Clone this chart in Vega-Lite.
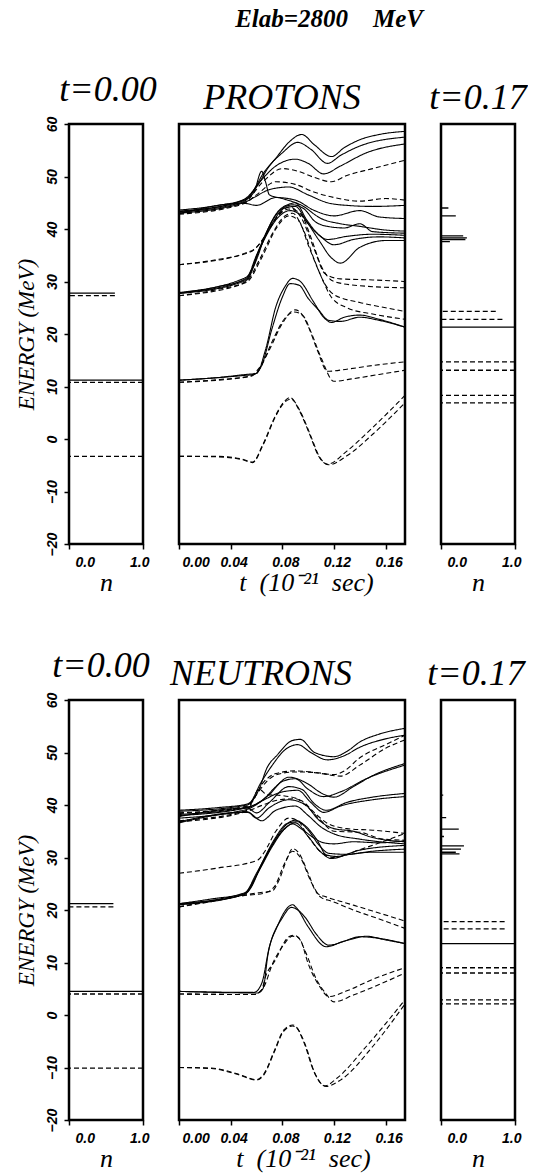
{
"$schema": "https://vega.github.io/schema/vega-lite/v6.json",
"padding": {"left": 14, "top": 6, "right": 0, "bottom": 0},
"background": "white",
"title": {"text": "Elab=2800\u00a0\u00a0\u00a0\u00a0MeV", "color": "black", "font": "Liberation Serif", "fontSize": 25, "fontWeight": "bold", "fontStyle": "italic", "anchor": "middle", "dx": 58, "offset": 39, "style": "etitle"},
"config": {
  "view": {"stroke": "black", "strokeWidth": 2.5},
  "line": {"color": "black", "strokeWidth": 1.1},
  "rule": {"color": "black", "strokeWidth": 1.3},
  "style": {"etitle": {"fill": "black", "font": "Liberation Serif", "fontSize": 25, "fontWeight": "bold", "fontStyle": "italic"}},
  "axis": {"grid": false, "domain": false, "tickColor": "black", "tickSize": 5, "tickWidth": 1.5, "labelColor": "black", "labelFont": "Liberation Sans", "labelFontWeight": "bold", "labelFontStyle": "italic", "labelFontSize": 14, "titleFont": "Liberation Serif", "titleFontStyle": "italic", "titleFontWeight": "normal", "titleColor": "black"},
  "title": {"font": "Liberation Serif", "fontStyle": "italic", "fontWeight": "normal", "fontSize": 36, "color": "black", "offset": 7}
},
"datasets": {
"p0": [
 {"s": "s", "E": 27.8, "n": 0.62}, {"s": "d", "E": 27.3, "n": 0.62},
 {"s": "s", "E": 11.2, "n": 1}, {"s": "d", "E": 10.8, "n": 1},
 {"s": "d", "E": -3.3, "n": 1}
],
"p1": [
 {"s": "s", "E": 44.0, "n": 0.1}, {"s": "s", "E": 42.5, "n": 0.2},
 {"s": "s", "E": 38.7, "n": 0.3}, {"s": "s", "E": 38.3, "n": 0.35}, {"s": "s", "E": 38.0, "n": 0.33}, {"s": "s", "E": 37.6, "n": 0.12},
 {"s": "d", "E": 24.3, "n": 0.74}, {"s": "d", "E": 22.8, "n": 0.83},
 {"s": "s", "E": 21.3, "n": 1},
 {"s": "d", "E": 14.7, "n": 1}, {"s": "d", "E": 13.1, "n": 1},
 {"s": "d", "E": 8.3, "n": 1}, {"s": "d", "E": 6.9, "n": 1}
],
"n0": [
 {"s": "s", "E": 21.2, "n": 0.6}, {"s": "d", "E": 20.6, "n": 0.6},
 {"s": "s", "E": 4.5, "n": 1}, {"s": "d", "E": 4.0, "n": 1},
 {"s": "d", "E": -10.1, "n": 1}
],
"n1": [
 {"s": "s", "E": 41.9, "n": 0.03}, {"s": "s", "E": 37.6, "n": 0.07}, {"s": "s", "E": 35.4, "n": 0.24}, {"s": "s", "E": 34.0, "n": 0.04},
 {"s": "s", "E": 32.2, "n": 0.31}, {"s": "s", "E": 31.6, "n": 0.27}, {"s": "s", "E": 31.0, "n": 0.2}, {"s": "s", "E": 30.7, "n": 0.25},
 {"s": "d", "E": 17.8, "n": 0.86}, {"s": "d", "E": 16.4, "n": 0.86},
 {"s": "s", "E": 13.6, "n": 1},
 {"s": "d", "E": 9.0, "n": 1}, {"s": "d", "E": 8.0, "n": 1},
 {"s": "d", "E": 2.9, "n": 1}, {"s": "d", "E": 2.1, "n": 1}
],
"pm": [
 {"id": "pa1", "s": "d", "t": 0, "E": -3.3}, {"id": "pa1", "s": "d", "t": 0.03, "E": -3.3}, {"id": "pa1", "s": "d", "t": 0.05, "E": -3.9}, {"id": "pa1", "s": "d", "t": 0.057, "E": -4.4}, {"id": "pa1", "s": "d", "t": 0.065, "E": -1.0}, {"id": "pa1", "s": "d", "t": 0.075, "E": 4.6}, {"id": "pa1", "s": "d", "t": 0.081, "E": 7.0}, {"id": "pa1", "s": "d", "t": 0.086, "E": 7.9}, {"id": "pa1", "s": "d", "t": 0.093, "E": 5.5}, {"id": "pa1", "s": "d", "t": 0.101, "E": 1.0}, {"id": "pa1", "s": "d", "t": 0.108, "E": -3.2}, {"id": "pa1", "s": "d", "t": 0.115, "E": -4.8}, {"id": "pa1", "s": "d", "t": 0.13, "E": -2.3}, {"id": "pa1", "s": "d", "t": 0.15, "E": 2.2}, {"id": "pa1", "s": "d", "t": 0.175, "E": 8.3},
 {"id": "pa2", "s": "d", "t": 0, "E": -3.3}, {"id": "pa2", "s": "d", "t": 0.03, "E": -3.4}, {"id": "pa2", "s": "d", "t": 0.05, "E": -4.0}, {"id": "pa2", "s": "d", "t": 0.057, "E": -4.5}, {"id": "pa2", "s": "d", "t": 0.065, "E": -1.2}, {"id": "pa2", "s": "d", "t": 0.075, "E": 4.4}, {"id": "pa2", "s": "d", "t": 0.081, "E": 6.8}, {"id": "pa2", "s": "d", "t": 0.087, "E": 7.6}, {"id": "pa2", "s": "d", "t": 0.094, "E": 5.2}, {"id": "pa2", "s": "d", "t": 0.102, "E": 0.6}, {"id": "pa2", "s": "d", "t": 0.109, "E": -3.5}, {"id": "pa2", "s": "d", "t": 0.116, "E": -4.9}, {"id": "pa2", "s": "d", "t": 0.13, "E": -3.2}, {"id": "pa2", "s": "d", "t": 0.15, "E": 0.9}, {"id": "pa2", "s": "d", "t": 0.175, "E": 6.9},
 {"id": "pbs1", "s": "s", "t": 0, "E": 11.2}, {"id": "pbs1", "s": "s", "t": 0.03, "E": 11.7}, {"id": "pbs1", "s": "s", "t": 0.052, "E": 12.3}, {"id": "pbs1", "s": "s", "t": 0.06, "E": 12.5}, {"id": "pbs1", "s": "s", "t": 0.067, "E": 17}, {"id": "pbs1", "s": "s", "t": 0.075, "E": 25.2}, {"id": "pbs1", "s": "s", "t": 0.082, "E": 29}, {"id": "pbs1", "s": "s", "t": 0.088, "E": 30.6}, {"id": "pbs1", "s": "s", "t": 0.094, "E": 30.0}, {"id": "pbs1", "s": "s", "t": 0.104, "E": 26.2}, {"id": "pbs1", "s": "s", "t": 0.112, "E": 23.2}, {"id": "pbs1", "s": "s", "t": 0.118, "E": 22.2}, {"id": "pbs1", "s": "s", "t": 0.128, "E": 23.2}, {"id": "pbs1", "s": "s", "t": 0.14, "E": 23.6}, {"id": "pbs1", "s": "s", "t": 0.155, "E": 22.8}, {"id": "pbs1", "s": "s", "t": 0.175, "E": 21.3},
 {"id": "pbs2", "s": "s", "t": 0, "E": 11.2}, {"id": "pbs2", "s": "s", "t": 0.05, "E": 12.1}, {"id": "pbs2", "s": "s", "t": 0.058, "E": 12.3}, {"id": "pbs2", "s": "s", "t": 0.064, "E": 14}, {"id": "pbs2", "s": "s", "t": 0.072, "E": 21}, {"id": "pbs2", "s": "s", "t": 0.08, "E": 27}, {"id": "pbs2", "s": "s", "t": 0.086, "E": 29.6}, {"id": "pbs2", "s": "s", "t": 0.093, "E": 29.3}, {"id": "pbs2", "s": "s", "t": 0.1, "E": 26.8}, {"id": "pbs2", "s": "s", "t": 0.108, "E": 24.6}, {"id": "pbs2", "s": "s", "t": 0.116, "E": 22.6}, {"id": "pbs2", "s": "s", "t": 0.125, "E": 22.4}, {"id": "pbs2", "s": "s", "t": 0.14, "E": 23.2}, {"id": "pbs2", "s": "s", "t": 0.155, "E": 22.6}, {"id": "pbs2", "s": "s", "t": 0.175, "E": 21.3},
 {"id": "pbd1", "s": "d", "t": 0, "E": 10.8}, {"id": "pbd1", "s": "d", "t": 0.03, "E": 11.3}, {"id": "pbd1", "s": "d", "t": 0.055, "E": 12.0}, {"id": "pbd1", "s": "d", "t": 0.062, "E": 13.5}, {"id": "pbd1", "s": "d", "t": 0.07, "E": 17}, {"id": "pbd1", "s": "d", "t": 0.08, "E": 22}, {"id": "pbd1", "s": "d", "t": 0.09, "E": 24.6}, {"id": "pbd1", "s": "d", "t": 0.095, "E": 23.8}, {"id": "pbd1", "s": "d", "t": 0.1, "E": 21.5}, {"id": "pbd1", "s": "d", "t": 0.107, "E": 17}, {"id": "pbd1", "s": "d", "t": 0.115, "E": 12.9}, {"id": "pbd1", "s": "d", "t": 0.13, "E": 13.3}, {"id": "pbd1", "s": "d", "t": 0.15, "E": 14}, {"id": "pbd1", "s": "d", "t": 0.175, "E": 14.7},
 {"id": "pbd2", "s": "d", "t": 0, "E": 10.8}, {"id": "pbd2", "s": "d", "t": 0.055, "E": 11.9}, {"id": "pbd2", "s": "d", "t": 0.063, "E": 13.6}, {"id": "pbd2", "s": "d", "t": 0.072, "E": 18.5}, {"id": "pbd2", "s": "d", "t": 0.082, "E": 23}, {"id": "pbd2", "s": "d", "t": 0.089, "E": 24.2}, {"id": "pbd2", "s": "d", "t": 0.096, "E": 23.5}, {"id": "pbd2", "s": "d", "t": 0.102, "E": 20.5}, {"id": "pbd2", "s": "d", "t": 0.11, "E": 15.5}, {"id": "pbd2", "s": "d", "t": 0.12, "E": 11.0}, {"id": "pbd2", "s": "d", "t": 0.135, "E": 11.5}, {"id": "pbd2", "s": "d", "t": 0.155, "E": 12.3}, {"id": "pbd2", "s": "d", "t": 0.175, "E": 13.1},
 {"id": "pcs1", "s": "s", "t": 0, "E": 27.8}, {"id": "pcs1", "s": "s", "t": 0.03, "E": 29.0}, {"id": "pcs1", "s": "s", "t": 0.052, "E": 30.6}, {"id": "pcs1", "s": "s", "t": 0.06, "E": 35}, {"id": "pcs1", "s": "s", "t": 0.067, "E": 39}, {"id": "pcs1", "s": "s", "t": 0.075, "E": 42.8}, {"id": "pcs1", "s": "s", "t": 0.086, "E": 44.8}, {"id": "pcs1", "s": "s", "t": 0.09, "E": 45.0}, {"id": "pcs1", "s": "s", "t": 0.099, "E": 41.7}, {"id": "pcs1", "s": "s", "t": 0.107, "E": 39.2}, {"id": "pcs1", "s": "s", "t": 0.115, "E": 38.0}, {"id": "pcs1", "s": "s", "t": 0.13, "E": 38.6}, {"id": "pcs1", "s": "s", "t": 0.15, "E": 39.0}, {"id": "pcs1", "s": "s", "t": 0.175, "E": 38.8},
 {"id": "pcs2", "s": "s", "t": 0, "E": 27.8}, {"id": "pcs2", "s": "s", "t": 0.052, "E": 30.4}, {"id": "pcs2", "s": "s", "t": 0.062, "E": 36}, {"id": "pcs2", "s": "s", "t": 0.072, "E": 41}, {"id": "pcs2", "s": "s", "t": 0.082, "E": 44}, {"id": "pcs2", "s": "s", "t": 0.09, "E": 44.3}, {"id": "pcs2", "s": "s", "t": 0.1, "E": 41}, {"id": "pcs2", "s": "s", "t": 0.11, "E": 38.5}, {"id": "pcs2", "s": "s", "t": 0.12, "E": 37.0}, {"id": "pcs2", "s": "s", "t": 0.135, "E": 38}, {"id": "pcs2", "s": "s", "t": 0.155, "E": 38.5}, {"id": "pcs2", "s": "s", "t": 0.175, "E": 38.3},
 {"id": "pcs3", "s": "s", "t": 0, "E": 27.9}, {"id": "pcs3", "s": "s", "t": 0.052, "E": 30.8}, {"id": "pcs3", "s": "s", "t": 0.058, "E": 33}, {"id": "pcs3", "s": "s", "t": 0.068, "E": 39.5}, {"id": "pcs3", "s": "s", "t": 0.078, "E": 43.5}, {"id": "pcs3", "s": "s", "t": 0.088, "E": 44.6}, {"id": "pcs3", "s": "s", "t": 0.097, "E": 43.8}, {"id": "pcs3", "s": "s", "t": 0.105, "E": 41.5}, {"id": "pcs3", "s": "s", "t": 0.115, "E": 40.5}, {"id": "pcs3", "s": "s", "t": 0.128, "E": 40.2}, {"id": "pcs3", "s": "s", "t": 0.14, "E": 41}, {"id": "pcs3", "s": "s", "t": 0.15, "E": 39.5}, {"id": "pcs3", "s": "s", "t": 0.175, "E": 39.2},
 {"id": "pcs4", "s": "s", "t": 0, "E": 27.7}, {"id": "pcs4", "s": "s", "t": 0.052, "E": 30.2}, {"id": "pcs4", "s": "s", "t": 0.064, "E": 37}, {"id": "pcs4", "s": "s", "t": 0.076, "E": 42}, {"id": "pcs4", "s": "s", "t": 0.086, "E": 43.5}, {"id": "pcs4", "s": "s", "t": 0.095, "E": 42.5}, {"id": "pcs4", "s": "s", "t": 0.108, "E": 38}, {"id": "pcs4", "s": "s", "t": 0.118, "E": 34.5}, {"id": "pcs4", "s": "s", "t": 0.125, "E": 33.5}, {"id": "pcs4", "s": "s", "t": 0.14, "E": 36.5}, {"id": "pcs4", "s": "s", "t": 0.16, "E": 37.8}, {"id": "pcs4", "s": "s", "t": 0.175, "E": 37.8},
 {"id": "pcd1", "s": "d", "t": 0, "E": 27.3}, {"id": "pcd1", "s": "d", "t": 0.03, "E": 28.5}, {"id": "pcd1", "s": "d", "t": 0.052, "E": 30.0}, {"id": "pcd1", "s": "d", "t": 0.062, "E": 34}, {"id": "pcd1", "s": "d", "t": 0.072, "E": 39}, {"id": "pcd1", "s": "d", "t": 0.082, "E": 42.5}, {"id": "pcd1", "s": "d", "t": 0.088, "E": 43}, {"id": "pcd1", "s": "d", "t": 0.096, "E": 40}, {"id": "pcd1", "s": "d", "t": 0.105, "E": 34}, {"id": "pcd1", "s": "d", "t": 0.113, "E": 29.5}, {"id": "pcd1", "s": "d", "t": 0.12, "E": 27.5}, {"id": "pcd1", "s": "d", "t": 0.14, "E": 26}, {"id": "pcd1", "s": "d", "t": 0.16, "E": 25}, {"id": "pcd1", "s": "d", "t": 0.175, "E": 24.3},
 {"id": "pcd2", "s": "d", "t": 0, "E": 27.3}, {"id": "pcd2", "s": "d", "t": 0.052, "E": 29.8}, {"id": "pcd2", "s": "d", "t": 0.064, "E": 34.5}, {"id": "pcd2", "s": "d", "t": 0.075, "E": 40}, {"id": "pcd2", "s": "d", "t": 0.085, "E": 42.5}, {"id": "pcd2", "s": "d", "t": 0.093, "E": 41.5}, {"id": "pcd2", "s": "d", "t": 0.1, "E": 37}, {"id": "pcd2", "s": "d", "t": 0.11, "E": 31}, {"id": "pcd2", "s": "d", "t": 0.118, "E": 27}, {"id": "pcd2", "s": "d", "t": 0.13, "E": 25}, {"id": "pcd2", "s": "d", "t": 0.15, "E": 23.8}, {"id": "pcd2", "s": "d", "t": 0.175, "E": 22.8},
 {"id": "pdd1", "s": "d", "t": 0, "E": 33.2}, {"id": "pdd1", "s": "d", "t": 0.03, "E": 34.2}, {"id": "pdd1", "s": "d", "t": 0.05, "E": 35.3}, {"id": "pdd1", "s": "d", "t": 0.06, "E": 36.5}, {"id": "pdd1", "s": "d", "t": 0.07, "E": 40}, {"id": "pdd1", "s": "d", "t": 0.08, "E": 43.5}, {"id": "pdd1", "s": "d", "t": 0.086, "E": 44.2}, {"id": "pdd1", "s": "d", "t": 0.095, "E": 42}, {"id": "pdd1", "s": "d", "t": 0.105, "E": 36}, {"id": "pdd1", "s": "d", "t": 0.113, "E": 31.5}, {"id": "pdd1", "s": "d", "t": 0.125, "E": 30.5}, {"id": "pdd1", "s": "d", "t": 0.15, "E": 30.3}, {"id": "pdd1", "s": "d", "t": 0.175, "E": 30},
 {"id": "pdd2", "s": "d", "t": 0, "E": 33.2}, {"id": "pdd2", "s": "d", "t": 0.055, "E": 35.6}, {"id": "pdd2", "s": "d", "t": 0.065, "E": 38}, {"id": "pdd2", "s": "d", "t": 0.075, "E": 42}, {"id": "pdd2", "s": "d", "t": 0.085, "E": 43.8}, {"id": "pdd2", "s": "d", "t": 0.094, "E": 43}, {"id": "pdd2", "s": "d", "t": 0.102, "E": 38.5}, {"id": "pdd2", "s": "d", "t": 0.11, "E": 33}, {"id": "pdd2", "s": "d", "t": 0.12, "E": 30}, {"id": "pdd2", "s": "d", "t": 0.14, "E": 29.2}, {"id": "pdd2", "s": "d", "t": 0.175, "E": 28.8},
 {"id": "pus1", "s": "s", "t": 0, "E": 43.6}, {"id": "pus1", "s": "s", "t": 0.03, "E": 44.5}, {"id": "pus1", "s": "s", "t": 0.05, "E": 45.6}, {"id": "pus1", "s": "s", "t": 0.058, "E": 47.5}, {"id": "pus1", "s": "s", "t": 0.065, "E": 50.5}, {"id": "pus1", "s": "s", "t": 0.075, "E": 53.5}, {"id": "pus1", "s": "s", "t": 0.085, "E": 56.5}, {"id": "pus1", "s": "s", "t": 0.095, "E": 58.0}, {"id": "pus1", "s": "s", "t": 0.105, "E": 56.0}, {"id": "pus1", "s": "s", "t": 0.118, "E": 53.8}, {"id": "pus1", "s": "s", "t": 0.128, "E": 55.5}, {"id": "pus1", "s": "s", "t": 0.14, "E": 57.0}, {"id": "pus1", "s": "s", "t": 0.155, "E": 58.0}, {"id": "pus1", "s": "s", "t": 0.175, "E": 58.6},
 {"id": "pus2", "s": "s", "t": 0, "E": 43.4}, {"id": "pus2", "s": "s", "t": 0.05, "E": 45.4}, {"id": "pus2", "s": "s", "t": 0.06, "E": 48}, {"id": "pus2", "s": "s", "t": 0.07, "E": 52}, {"id": "pus2", "s": "s", "t": 0.08, "E": 54.5}, {"id": "pus2", "s": "s", "t": 0.092, "E": 56.5}, {"id": "pus2", "s": "s", "t": 0.102, "E": 55.2}, {"id": "pus2", "s": "s", "t": 0.115, "E": 52.5}, {"id": "pus2", "s": "s", "t": 0.125, "E": 54.0}, {"id": "pus2", "s": "s", "t": 0.14, "E": 55.8}, {"id": "pus2", "s": "s", "t": 0.175, "E": 57.5},
 {"id": "pus3", "s": "s", "t": 0, "E": 43.2}, {"id": "pus3", "s": "s", "t": 0.05, "E": 45.2}, {"id": "pus3", "s": "s", "t": 0.062, "E": 48.8}, {"id": "pus3", "s": "s", "t": 0.075, "E": 52}, {"id": "pus3", "s": "s", "t": 0.09, "E": 53.3}, {"id": "pus3", "s": "s", "t": 0.1, "E": 52.5}, {"id": "pus3", "s": "s", "t": 0.112, "E": 50.5}, {"id": "pus3", "s": "s", "t": 0.125, "E": 52}, {"id": "pus3", "s": "s", "t": 0.145, "E": 54.5}, {"id": "pus3", "s": "s", "t": 0.175, "E": 56.2},
 {"id": "pud1", "s": "d", "t": 0, "E": 43.0}, {"id": "pud1", "s": "d", "t": 0.05, "E": 45.0}, {"id": "pud1", "s": "d", "t": 0.065, "E": 49}, {"id": "pud1", "s": "d", "t": 0.08, "E": 51.5}, {"id": "pud1", "s": "d", "t": 0.092, "E": 51}, {"id": "pud1", "s": "d", "t": 0.105, "E": 49.8}, {"id": "pud1", "s": "d", "t": 0.118, "E": 49.0}, {"id": "pud1", "s": "d", "t": 0.13, "E": 50.2}, {"id": "pud1", "s": "d", "t": 0.15, "E": 51.5}, {"id": "pud1", "s": "d", "t": 0.175, "E": 53.1},
 {"id": "pud2", "s": "d", "t": 0, "E": 42.8}, {"id": "pud2", "s": "d", "t": 0.05, "E": 44.8}, {"id": "pud2", "s": "d", "t": 0.06, "E": 46.5}, {"id": "pud2", "s": "d", "t": 0.075, "E": 49}, {"id": "pud2", "s": "d", "t": 0.09, "E": 48.5}, {"id": "pud2", "s": "d", "t": 0.105, "E": 47}, {"id": "pud2", "s": "d", "t": 0.12, "E": 46}, {"id": "pud2", "s": "d", "t": 0.14, "E": 45.3}, {"id": "pud2", "s": "d", "t": 0.16, "E": 45.8}, {"id": "pud2", "s": "d", "t": 0.175, "E": 45.5},
 {"id": "pus4", "s": "s", "t": 0, "E": 43.0}, {"id": "pus4", "s": "s", "t": 0.05, "E": 45.0}, {"id": "pus4", "s": "s", "t": 0.058, "E": 46}, {"id": "pus4", "s": "s", "t": 0.07, "E": 47.5}, {"id": "pus4", "s": "s", "t": 0.085, "E": 48}, {"id": "pus4", "s": "s", "t": 0.1, "E": 46.5}, {"id": "pus4", "s": "s", "t": 0.115, "E": 45}, {"id": "pus4", "s": "s", "t": 0.13, "E": 44.5}, {"id": "pus4", "s": "s", "t": 0.15, "E": 44.3}, {"id": "pus4", "s": "s", "t": 0.175, "E": 44.5},
 {"id": "pus5", "s": "s", "t": 0, "E": 42.9}, {"id": "pus5", "s": "s", "t": 0.05, "E": 44.9}, {"id": "pus5", "s": "s", "t": 0.06, "E": 44.5}, {"id": "pus5", "s": "s", "t": 0.075, "E": 46}, {"id": "pus5", "s": "s", "t": 0.09, "E": 45.5}, {"id": "pus5", "s": "s", "t": 0.105, "E": 43.5}, {"id": "pus5", "s": "s", "t": 0.12, "E": 42.5}, {"id": "pus5", "s": "s", "t": 0.14, "E": 43.5}, {"id": "pus5", "s": "s", "t": 0.155, "E": 42.3}, {"id": "pus5", "s": "s", "t": 0.175, "E": 42.0},
 {"id": "pus6", "s": "s", "t": 0, "E": 43.3}, {"id": "pus6", "s": "s", "t": 0.05, "E": 45.5}, {"id": "pus6", "s": "s", "t": 0.058, "E": 47}, {"id": "pus6", "s": "s", "t": 0.064, "E": 51}, {"id": "pus6", "s": "s", "t": 0.067, "E": 49}, {"id": "pus6", "s": "s", "t": 0.07, "E": 46.5}, {"id": "pus6", "s": "s", "t": 0.08, "E": 45.8}, {"id": "pus6", "s": "s", "t": 0.095, "E": 44.5}, {"id": "pus6", "s": "s", "t": 0.11, "E": 42}, {"id": "pus6", "s": "s", "t": 0.125, "E": 41}, {"id": "pus6", "s": "s", "t": 0.14, "E": 40.5}, {"id": "pus6", "s": "s", "t": 0.16, "E": 39.8}, {"id": "pus6", "s": "s", "t": 0.175, "E": 39.6}
],
"nm": [
 {"id": "na1", "s": "d", "t": 0, "E": -10}, {"id": "na1", "s": "d", "t": 0.025, "E": -10.1}, {"id": "na1", "s": "d", "t": 0.045, "E": -11.2}, {"id": "na1", "s": "d", "t": 0.06, "E": -12.3}, {"id": "na1", "s": "d", "t": 0.066, "E": -11.1}, {"id": "na1", "s": "d", "t": 0.074, "E": -6.7}, {"id": "na1", "s": "d", "t": 0.081, "E": -2.9}, {"id": "na1", "s": "d", "t": 0.088, "E": -1.9}, {"id": "na1", "s": "d", "t": 0.09, "E": -2.1}, {"id": "na1", "s": "d", "t": 0.097, "E": -5.4}, {"id": "na1", "s": "d", "t": 0.104, "E": -10.5}, {"id": "na1", "s": "d", "t": 0.113, "E": -13.5}, {"id": "na1", "s": "d", "t": 0.122, "E": -12.1}, {"id": "na1", "s": "d", "t": 0.145, "E": -6}, {"id": "na1", "s": "d", "t": 0.175, "E": 2.9},
 {"id": "na2", "s": "d", "t": 0, "E": -10}, {"id": "na2", "s": "d", "t": 0.025, "E": -10.2}, {"id": "na2", "s": "d", "t": 0.045, "E": -11.3}, {"id": "na2", "s": "d", "t": 0.06, "E": -12.4}, {"id": "na2", "s": "d", "t": 0.066, "E": -11.3}, {"id": "na2", "s": "d", "t": 0.074, "E": -6.9}, {"id": "na2", "s": "d", "t": 0.081, "E": -3.1}, {"id": "na2", "s": "d", "t": 0.088, "E": -2.1}, {"id": "na2", "s": "d", "t": 0.091, "E": -2.4}, {"id": "na2", "s": "d", "t": 0.098, "E": -5.8}, {"id": "na2", "s": "d", "t": 0.105, "E": -11}, {"id": "na2", "s": "d", "t": 0.114, "E": -13.6}, {"id": "na2", "s": "d", "t": 0.125, "E": -12.4}, {"id": "na2", "s": "d", "t": 0.15, "E": -6}, {"id": "na2", "s": "d", "t": 0.175, "E": 2.1},
 {"id": "nbs1", "s": "s", "t": 0, "E": 4.5}, {"id": "nbs1", "s": "s", "t": 0.061, "E": 4.2}, {"id": "nbs1", "s": "s", "t": 0.065, "E": 5}, {"id": "nbs1", "s": "s", "t": 0.069, "E": 11.7}, {"id": "nbs1", "s": "s", "t": 0.076, "E": 16.8}, {"id": "nbs1", "s": "s", "t": 0.088, "E": 21}, {"id": "nbs1", "s": "s", "t": 0.091, "E": 20.4}, {"id": "nbs1", "s": "s", "t": 0.1, "E": 16.8}, {"id": "nbs1", "s": "s", "t": 0.114, "E": 13.0}, {"id": "nbs1", "s": "s", "t": 0.127, "E": 14.0}, {"id": "nbs1", "s": "s", "t": 0.14, "E": 14.9}, {"id": "nbs1", "s": "s", "t": 0.152, "E": 14.7}, {"id": "nbs1", "s": "s", "t": 0.175, "E": 13.6},
 {"id": "nbs2", "s": "s", "t": 0, "E": 4.5}, {"id": "nbs2", "s": "s", "t": 0.058, "E": 4.3}, {"id": "nbs2", "s": "s", "t": 0.064, "E": 6}, {"id": "nbs2", "s": "s", "t": 0.07, "E": 13}, {"id": "nbs2", "s": "s", "t": 0.08, "E": 18.5}, {"id": "nbs2", "s": "s", "t": 0.087, "E": 20.5}, {"id": "nbs2", "s": "s", "t": 0.092, "E": 20}, {"id": "nbs2", "s": "s", "t": 0.098, "E": 18.5}, {"id": "nbs2", "s": "s", "t": 0.106, "E": 15.5}, {"id": "nbs2", "s": "s", "t": 0.116, "E": 13.3}, {"id": "nbs2", "s": "s", "t": 0.13, "E": 14.2}, {"id": "nbs2", "s": "s", "t": 0.145, "E": 15}, {"id": "nbs2", "s": "s", "t": 0.16, "E": 14.3}, {"id": "nbs2", "s": "s", "t": 0.175, "E": 13.6},
 {"id": "nbd1", "s": "d", "t": 0, "E": 4.0}, {"id": "nbd1", "s": "d", "t": 0.058, "E": 3.9}, {"id": "nbd1", "s": "d", "t": 0.064, "E": 4.8}, {"id": "nbd1", "s": "d", "t": 0.067, "E": 7.3}, {"id": "nbd1", "s": "d", "t": 0.074, "E": 10.2}, {"id": "nbd1", "s": "d", "t": 0.085, "E": 14.9}, {"id": "nbd1", "s": "d", "t": 0.089, "E": 15.2}, {"id": "nbd1", "s": "d", "t": 0.094, "E": 14.3}, {"id": "nbd1", "s": "d", "t": 0.1, "E": 9.8}, {"id": "nbd1", "s": "d", "t": 0.109, "E": 5.4}, {"id": "nbd1", "s": "d", "t": 0.116, "E": 3.5}, {"id": "nbd1", "s": "d", "t": 0.13, "E": 4.6}, {"id": "nbd1", "s": "d", "t": 0.15, "E": 6.8}, {"id": "nbd1", "s": "d", "t": 0.175, "E": 9.0},
 {"id": "nbd2", "s": "d", "t": 0, "E": 4.0}, {"id": "nbd2", "s": "d", "t": 0.058, "E": 3.9}, {"id": "nbd2", "s": "d", "t": 0.066, "E": 5.5}, {"id": "nbd2", "s": "d", "t": 0.072, "E": 9.5}, {"id": "nbd2", "s": "d", "t": 0.08, "E": 13}, {"id": "nbd2", "s": "d", "t": 0.088, "E": 15.0}, {"id": "nbd2", "s": "d", "t": 0.092, "E": 14.8}, {"id": "nbd2", "s": "d", "t": 0.098, "E": 12}, {"id": "nbd2", "s": "d", "t": 0.106, "E": 7}, {"id": "nbd2", "s": "d", "t": 0.114, "E": 4.0}, {"id": "nbd2", "s": "d", "t": 0.12, "E": 2.5}, {"id": "nbd2", "s": "d", "t": 0.135, "E": 3.8}, {"id": "nbd2", "s": "d", "t": 0.155, "E": 5.8}, {"id": "nbd2", "s": "d", "t": 0.175, "E": 8.0},
 {"id": "ncs1", "s": "s", "t": 0, "E": 21.2}, {"id": "ncs1", "s": "s", "t": 0.025, "E": 22.1}, {"id": "ncs1", "s": "s", "t": 0.051, "E": 23.2}, {"id": "ncs1", "s": "s", "t": 0.058, "E": 25.7}, {"id": "ncs1", "s": "s", "t": 0.066, "E": 29.5}, {"id": "ncs1", "s": "s", "t": 0.076, "E": 34}, {"id": "ncs1", "s": "s", "t": 0.086, "E": 36.8}, {"id": "ncs1", "s": "s", "t": 0.09, "E": 37.1}, {"id": "ncs1", "s": "s", "t": 0.097, "E": 36.2}, {"id": "ncs1", "s": "s", "t": 0.107, "E": 33.3}, {"id": "ncs1", "s": "s", "t": 0.114, "E": 30.5}, {"id": "ncs1", "s": "s", "t": 0.122, "E": 30.2}, {"id": "ncs1", "s": "s", "t": 0.14, "E": 31.4}, {"id": "ncs1", "s": "s", "t": 0.175, "E": 32.3},
 {"id": "ncs2", "s": "s", "t": 0, "E": 21.1}, {"id": "ncs2", "s": "s", "t": 0.051, "E": 23.1}, {"id": "ncs2", "s": "s", "t": 0.055, "E": 24}, {"id": "ncs2", "s": "s", "t": 0.064, "E": 28.8}, {"id": "ncs2", "s": "s", "t": 0.074, "E": 33.5}, {"id": "ncs2", "s": "s", "t": 0.084, "E": 36.5}, {"id": "ncs2", "s": "s", "t": 0.092, "E": 36.8}, {"id": "ncs2", "s": "s", "t": 0.1, "E": 35.2}, {"id": "ncs2", "s": "s", "t": 0.108, "E": 32.5}, {"id": "ncs2", "s": "s", "t": 0.116, "E": 30.8}, {"id": "ncs2", "s": "s", "t": 0.13, "E": 30.6}, {"id": "ncs2", "s": "s", "t": 0.15, "E": 31.2}, {"id": "ncs2", "s": "s", "t": 0.175, "E": 31.6},
 {"id": "ncs3", "s": "s", "t": 0, "E": 21.2}, {"id": "ncs3", "s": "s", "t": 0.051, "E": 23.3}, {"id": "ncs3", "s": "s", "t": 0.06, "E": 27}, {"id": "ncs3", "s": "s", "t": 0.07, "E": 31.5}, {"id": "ncs3", "s": "s", "t": 0.08, "E": 35}, {"id": "ncs3", "s": "s", "t": 0.088, "E": 36.4}, {"id": "ncs3", "s": "s", "t": 0.095, "E": 35.4}, {"id": "ncs3", "s": "s", "t": 0.104, "E": 33.8}, {"id": "ncs3", "s": "s", "t": 0.112, "E": 32.8}, {"id": "ncs3", "s": "s", "t": 0.12, "E": 32.6}, {"id": "ncs3", "s": "s", "t": 0.135, "E": 33}, {"id": "ncs3", "s": "s", "t": 0.155, "E": 32.8}, {"id": "ncs3", "s": "s", "t": 0.175, "E": 33.2},
 {"id": "ncs4", "s": "s", "t": 0, "E": 21.0}, {"id": "ncs4", "s": "s", "t": 0.051, "E": 23.0}, {"id": "ncs4", "s": "s", "t": 0.062, "E": 27.5}, {"id": "ncs4", "s": "s", "t": 0.072, "E": 32}, {"id": "ncs4", "s": "s", "t": 0.082, "E": 35.5}, {"id": "ncs4", "s": "s", "t": 0.09, "E": 36.6}, {"id": "ncs4", "s": "s", "t": 0.1, "E": 34}, {"id": "ncs4", "s": "s", "t": 0.11, "E": 31}, {"id": "ncs4", "s": "s", "t": 0.118, "E": 29.8}, {"id": "ncs4", "s": "s", "t": 0.13, "E": 30.5}, {"id": "ncs4", "s": "s", "t": 0.15, "E": 31}, {"id": "ncs4", "s": "s", "t": 0.175, "E": 31.0},
 {"id": "ncd1", "s": "d", "t": 0, "E": 20.6}, {"id": "ncd1", "s": "d", "t": 0.025, "E": 21.6}, {"id": "ncd1", "s": "d", "t": 0.052, "E": 22.9}, {"id": "ncd1", "s": "d", "t": 0.062, "E": 23.3}, {"id": "ncd1", "s": "d", "t": 0.072, "E": 23.6}, {"id": "ncd1", "s": "d", "t": 0.078, "E": 26}, {"id": "ncd1", "s": "d", "t": 0.084, "E": 30}, {"id": "ncd1", "s": "d", "t": 0.088, "E": 31.7}, {"id": "ncd1", "s": "d", "t": 0.093, "E": 30.8}, {"id": "ncd1", "s": "d", "t": 0.1, "E": 27}, {"id": "ncd1", "s": "d", "t": 0.107, "E": 23.2}, {"id": "ncd1", "s": "d", "t": 0.114, "E": 22.5}, {"id": "ncd1", "s": "d", "t": 0.13, "E": 21.3}, {"id": "ncd1", "s": "d", "t": 0.15, "E": 19.8}, {"id": "ncd1", "s": "d", "t": 0.175, "E": 17.9},
 {"id": "ncd2", "s": "d", "t": 0, "E": 20.6}, {"id": "ncd2", "s": "d", "t": 0.052, "E": 22.8}, {"id": "ncd2", "s": "d", "t": 0.066, "E": 23.2}, {"id": "ncd2", "s": "d", "t": 0.074, "E": 24.5}, {"id": "ncd2", "s": "d", "t": 0.082, "E": 29}, {"id": "ncd2", "s": "d", "t": 0.088, "E": 31.2}, {"id": "ncd2", "s": "d", "t": 0.094, "E": 30}, {"id": "ncd2", "s": "d", "t": 0.102, "E": 25.5}, {"id": "ncd2", "s": "d", "t": 0.11, "E": 22.4}, {"id": "ncd2", "s": "d", "t": 0.118, "E": 21.7}, {"id": "ncd2", "s": "d", "t": 0.135, "E": 20}, {"id": "ncd2", "s": "d", "t": 0.155, "E": 18.3}, {"id": "ncd2", "s": "d", "t": 0.175, "E": 16.5},
 {"id": "ndd1", "s": "d", "t": 0, "E": 27}, {"id": "ndd1", "s": "d", "t": 0.03, "E": 28}, {"id": "ndd1", "s": "d", "t": 0.061, "E": 29.5}, {"id": "ndd1", "s": "d", "t": 0.066, "E": 31}, {"id": "ndd1", "s": "d", "t": 0.075, "E": 35}, {"id": "ndd1", "s": "d", "t": 0.085, "E": 37.5}, {"id": "ndd1", "s": "d", "t": 0.092, "E": 37}, {"id": "ndd1", "s": "d", "t": 0.1, "E": 34}, {"id": "ndd1", "s": "d", "t": 0.11, "E": 31}, {"id": "ndd1", "s": "d", "t": 0.12, "E": 30}, {"id": "ndd1", "s": "d", "t": 0.14, "E": 31.5}, {"id": "ndd1", "s": "d", "t": 0.175, "E": 34.6},
 {"id": "nus1", "s": "s", "t": 0, "E": 39.0}, {"id": "nus1", "s": "s", "t": 0.03, "E": 39.5}, {"id": "nus1", "s": "s", "t": 0.053, "E": 40.2}, {"id": "nus1", "s": "s", "t": 0.062, "E": 43}, {"id": "nus1", "s": "s", "t": 0.068, "E": 47}, {"id": "nus1", "s": "s", "t": 0.076, "E": 49.5}, {"id": "nus1", "s": "s", "t": 0.088, "E": 52.3}, {"id": "nus1", "s": "s", "t": 0.094, "E": 52.5}, {"id": "nus1", "s": "s", "t": 0.105, "E": 50}, {"id": "nus1", "s": "s", "t": 0.12, "E": 49.2}, {"id": "nus1", "s": "s", "t": 0.13, "E": 50.2}, {"id": "nus1", "s": "s", "t": 0.14, "E": 52}, {"id": "nus1", "s": "s", "t": 0.155, "E": 53.5}, {"id": "nus1", "s": "s", "t": 0.175, "E": 54.6},
 {"id": "nus2", "s": "s", "t": 0, "E": 38.8}, {"id": "nus2", "s": "s", "t": 0.053, "E": 40.0}, {"id": "nus2", "s": "s", "t": 0.064, "E": 44.5}, {"id": "nus2", "s": "s", "t": 0.072, "E": 47.5}, {"id": "nus2", "s": "s", "t": 0.082, "E": 50.5}, {"id": "nus2", "s": "s", "t": 0.092, "E": 51.5}, {"id": "nus2", "s": "s", "t": 0.102, "E": 50}, {"id": "nus2", "s": "s", "t": 0.115, "E": 48.6}, {"id": "nus2", "s": "s", "t": 0.128, "E": 49.4}, {"id": "nus2", "s": "s", "t": 0.14, "E": 51}, {"id": "nus2", "s": "s", "t": 0.16, "E": 52.6}, {"id": "nus2", "s": "s", "t": 0.175, "E": 53.3},
 {"id": "nud1", "s": "d", "t": 0, "E": 38.5}, {"id": "nud1", "s": "d", "t": 0.053, "E": 39.8}, {"id": "nud1", "s": "d", "t": 0.06, "E": 42}, {"id": "nud1", "s": "d", "t": 0.068, "E": 44.5}, {"id": "nud1", "s": "d", "t": 0.076, "E": 45.8}, {"id": "nud1", "s": "d", "t": 0.09, "E": 46.3}, {"id": "nud1", "s": "d", "t": 0.105, "E": 46.2}, {"id": "nud1", "s": "d", "t": 0.12, "E": 45.8}, {"id": "nud1", "s": "d", "t": 0.128, "E": 46.5}, {"id": "nud1", "s": "d", "t": 0.14, "E": 49}, {"id": "nud1", "s": "d", "t": 0.16, "E": 51.5}, {"id": "nud1", "s": "d", "t": 0.175, "E": 53.3},
 {"id": "nud2", "s": "d", "t": 0, "E": 38.4}, {"id": "nud2", "s": "d", "t": 0.053, "E": 39.7}, {"id": "nud2", "s": "d", "t": 0.066, "E": 44.5}, {"id": "nud2", "s": "d", "t": 0.075, "E": 46}, {"id": "nud2", "s": "d", "t": 0.09, "E": 46.5}, {"id": "nud2", "s": "d", "t": 0.11, "E": 46}, {"id": "nud2", "s": "d", "t": 0.125, "E": 45.5}, {"id": "nud2", "s": "d", "t": 0.14, "E": 47.6}, {"id": "nud2", "s": "d", "t": 0.16, "E": 50.8}, {"id": "nud2", "s": "d", "t": 0.175, "E": 52.4},
 {"id": "nus3", "s": "s", "t": 0, "E": 38.2}, {"id": "nus3", "s": "s", "t": 0.053, "E": 39.6}, {"id": "nus3", "s": "s", "t": 0.065, "E": 41}, {"id": "nus3", "s": "s", "t": 0.075, "E": 43.5}, {"id": "nus3", "s": "s", "t": 0.085, "E": 45.3}, {"id": "nus3", "s": "s", "t": 0.1, "E": 44}, {"id": "nus3", "s": "s", "t": 0.11, "E": 42.3}, {"id": "nus3", "s": "s", "t": 0.12, "E": 41.5}, {"id": "nus3", "s": "s", "t": 0.135, "E": 43.5}, {"id": "nus3", "s": "s", "t": 0.15, "E": 45.6}, {"id": "nus3", "s": "s", "t": 0.175, "E": 47.9},
 {"id": "nus4", "s": "s", "t": 0, "E": 38.0}, {"id": "nus4", "s": "s", "t": 0.053, "E": 39.5}, {"id": "nus4", "s": "s", "t": 0.07, "E": 42}, {"id": "nus4", "s": "s", "t": 0.08, "E": 44.5}, {"id": "nus4", "s": "s", "t": 0.09, "E": 45}, {"id": "nus4", "s": "s", "t": 0.1, "E": 43}, {"id": "nus4", "s": "s", "t": 0.112, "E": 41.6}, {"id": "nus4", "s": "s", "t": 0.125, "E": 42.5}, {"id": "nus4", "s": "s", "t": 0.145, "E": 45}, {"id": "nus4", "s": "s", "t": 0.175, "E": 47.6},
 {"id": "nus5", "s": "s", "t": 0, "E": 37.8}, {"id": "nus5", "s": "s", "t": 0.053, "E": 39.4}, {"id": "nus5", "s": "s", "t": 0.06, "E": 38.5}, {"id": "nus5", "s": "s", "t": 0.07, "E": 40.5}, {"id": "nus5", "s": "s", "t": 0.085, "E": 43.5}, {"id": "nus5", "s": "s", "t": 0.095, "E": 43}, {"id": "nus5", "s": "s", "t": 0.105, "E": 40.2}, {"id": "nus5", "s": "s", "t": 0.114, "E": 39.0}, {"id": "nus5", "s": "s", "t": 0.13, "E": 40.5}, {"id": "nus5", "s": "s", "t": 0.15, "E": 41.5}, {"id": "nus5", "s": "s", "t": 0.175, "E": 42.2},
 {"id": "nus6", "s": "s", "t": 0, "E": 37.5}, {"id": "nus6", "s": "s", "t": 0.053, "E": 39.2}, {"id": "nus6", "s": "s", "t": 0.066, "E": 41}, {"id": "nus6", "s": "s", "t": 0.08, "E": 42.5}, {"id": "nus6", "s": "s", "t": 0.092, "E": 42.8}, {"id": "nus6", "s": "s", "t": 0.102, "E": 40.5}, {"id": "nus6", "s": "s", "t": 0.112, "E": 38.6}, {"id": "nus6", "s": "s", "t": 0.125, "E": 39.8}, {"id": "nus6", "s": "s", "t": 0.15, "E": 41}, {"id": "nus6", "s": "s", "t": 0.175, "E": 41.6},
 {"id": "nud3", "s": "d", "t": 0, "E": 37.0}, {"id": "nud3", "s": "d", "t": 0.053, "E": 39.0}, {"id": "nud3", "s": "d", "t": 0.062, "E": 43}, {"id": "nud3", "s": "d", "t": 0.068, "E": 42}, {"id": "nud3", "s": "d", "t": 0.08, "E": 41.8}, {"id": "nud3", "s": "d", "t": 0.095, "E": 40.8}, {"id": "nud3", "s": "d", "t": 0.105, "E": 38.5}, {"id": "nud3", "s": "d", "t": 0.115, "E": 36.5}, {"id": "nud3", "s": "d", "t": 0.13, "E": 35.5}, {"id": "nud3", "s": "d", "t": 0.15, "E": 35.2}, {"id": "nud3", "s": "d", "t": 0.175, "E": 34.6},
 {"id": "nud4", "s": "d", "t": 0, "E": 36.8}, {"id": "nud4", "s": "d", "t": 0.053, "E": 38.8}, {"id": "nud4", "s": "d", "t": 0.065, "E": 40}, {"id": "nud4", "s": "d", "t": 0.078, "E": 41}, {"id": "nud4", "s": "d", "t": 0.09, "E": 41.2}, {"id": "nud4", "s": "d", "t": 0.1, "E": 39.5}, {"id": "nud4", "s": "d", "t": 0.11, "E": 37}, {"id": "nud4", "s": "d", "t": 0.12, "E": 35}, {"id": "nud4", "s": "d", "t": 0.14, "E": 34.8}, {"id": "nud4", "s": "d", "t": 0.158, "E": 33.5}, {"id": "nud4", "s": "d", "t": 0.175, "E": 33.3},
 {"id": "nus7", "s": "s", "t": 0, "E": 36.8}, {"id": "nus7", "s": "s", "t": 0.053, "E": 38.7}, {"id": "nus7", "s": "s", "t": 0.06, "E": 37.5}, {"id": "nus7", "s": "s", "t": 0.07, "E": 39.5}, {"id": "nus7", "s": "s", "t": 0.085, "E": 41}, {"id": "nus7", "s": "s", "t": 0.098, "E": 40}, {"id": "nus7", "s": "s", "t": 0.108, "E": 37.2}, {"id": "nus7", "s": "s", "t": 0.12, "E": 35.5}, {"id": "nus7", "s": "s", "t": 0.135, "E": 35}, {"id": "nus7", "s": "s", "t": 0.15, "E": 33.8}, {"id": "nus7", "s": "s", "t": 0.175, "E": 33.0},
 {"id": "nus8", "s": "s", "t": 0, "E": 36.6}, {"id": "nus8", "s": "s", "t": 0.053, "E": 38.6}, {"id": "nus8", "s": "s", "t": 0.064, "E": 37}, {"id": "nus8", "s": "s", "t": 0.075, "E": 39}, {"id": "nus8", "s": "s", "t": 0.09, "E": 39.8}, {"id": "nus8", "s": "s", "t": 0.1, "E": 38}, {"id": "nus8", "s": "s", "t": 0.11, "E": 35.8}, {"id": "nus8", "s": "s", "t": 0.12, "E": 34.5}, {"id": "nus8", "s": "s", "t": 0.14, "E": 33.5}, {"id": "nus8", "s": "s", "t": 0.175, "E": 32.6}
]
},
"spacing": 49,
"vconcat": [
 {
  "bounds": "flush",
  "spacing": 36,
  "hconcat": [
   {
    "width": 74, "height": 420,
    "title": {"text": "t=0.00", "dx": 2},
    "data": {"name": "p0"},
    "mark": {"type": "rule"},
    "encoding": {
     "y": {"field": "E", "type": "quantitative", "scale": {"domain": [-20, 60], "nice": false}, "axis": {"values": [-20, -10, 0, 10, 20, 30, 40, 50, 60], "labelAngle": -90, "labelPadding": 5, "title": "ENERGY (MeV)", "titleFontSize": 23, "titlePadding": 6.5}},
     "x": {"field": "n", "type": "quantitative", "scale": {"domain": [0, 1], "nice": false, "zero": false}, "axis": {"values": [0, 1], "format": ".1f", "labelOffset": 6, "labelPadding": 6, "title": "n", "titleFontSize": 26, "titlePadding": 0}},
     "x2": {"datum": 0},
     "strokeDash": {"field": "s", "type": "nominal", "scale": {"domain": ["s", "d"], "range": [[1, 0], [5, 3]]}, "legend": null}
    }
   },
   {
    "width": 226, "height": 420,
    "title": {"text": "PROTONS", "dx": -10},
    "data": {"name": "pm"},
    "mark": {"type": "line", "interpolate": "monotone"},
    "encoding": {
     "x": {"field": "t", "type": "quantitative", "scale": {"domain": [0, 0.175], "nice": false, "zero": false}, "axis": {"values": [0, 0.04, 0.08, 0.12, 0.16], "format": ".2f", "labelFlush": true, "labelOffset": 3, "labelPadding": 6, "title": "t\u00a0\u00a0(10⁻²¹\u00a0\u00a0sec)", "titleFontSize": 26, "titlePadding": 0, "titleX": 127}},
     "y": {"field": "E", "type": "quantitative", "scale": {"domain": [-20, 60], "nice": false}, "axis": null},
     "detail": {"field": "id"},
     "strokeDash": {"field": "s", "type": "nominal", "scale": {"domain": ["s", "d"], "range": [[1, 0], [5, 3]]}, "legend": null}
    }
   },
   {
    "width": 74, "height": 420,
    "title": {"text": "t=0.17", "dx": 0},
    "data": {"name": "p1"},
    "mark": {"type": "rule"},
    "encoding": {
     "y": {"field": "E", "type": "quantitative", "scale": {"domain": [-20, 60], "nice": false}, "axis": null},
     "x": {"field": "n", "type": "quantitative", "scale": {"domain": [0, 1], "nice": false, "zero": false}, "axis": {"values": [0, 1], "format": ".1f", "labelOffset": 6, "labelPadding": 6, "title": "n", "titleFontSize": 26, "titlePadding": 0}},
     "x2": {"datum": 0},
     "strokeDash": {"field": "s", "type": "nominal", "scale": {"domain": ["s", "d"], "range": [[1, 0], [5, 3]]}, "legend": null}
    }
   }
  ]
 },
 {
  "bounds": "flush",
  "spacing": 36,
  "hconcat": [
   {
    "width": 74, "height": 420,
    "title": {"text": "t=0.00", "dx": -5},
    "data": {"name": "n0"},
    "mark": {"type": "rule"},
    "encoding": {
     "y": {"field": "E", "type": "quantitative", "scale": {"domain": [-20, 60], "nice": false}, "axis": {"values": [-20, -10, 0, 10, 20, 30, 40, 50, 60], "labelAngle": -90, "labelPadding": 5, "title": "ENERGY (MeV)", "titleFontSize": 23, "titlePadding": 6.5}},
     "x": {"field": "n", "type": "quantitative", "scale": {"domain": [0, 1], "nice": false, "zero": false}, "axis": {"values": [0, 1], "format": ".1f", "labelOffset": 6, "labelPadding": 6, "title": "n", "titleFontSize": 26, "titlePadding": 0}},
     "x2": {"datum": 0},
     "strokeDash": {"field": "s", "type": "nominal", "scale": {"domain": ["s", "d"], "range": [[1, 0], [5, 3]]}, "legend": null}
    }
   },
   {
    "width": 226, "height": 420,
    "title": {"text": "NEUTRONS", "dx": -31},
    "data": {"name": "nm"},
    "mark": {"type": "line", "interpolate": "monotone"},
    "encoding": {
     "x": {"field": "t", "type": "quantitative", "scale": {"domain": [0, 0.175], "nice": false, "zero": false}, "axis": {"values": [0, 0.04, 0.08, 0.12, 0.16], "format": ".2f", "labelFlush": true, "labelOffset": 3, "labelPadding": 6, "title": "t\u00a0\u00a0(10⁻²¹\u00a0\u00a0sec)", "titleFontSize": 26, "titlePadding": 0, "titleX": 124}},
     "y": {"field": "E", "type": "quantitative", "scale": {"domain": [-20, 60], "nice": false}, "axis": null},
     "detail": {"field": "id"},
     "strokeDash": {"field": "s", "type": "nominal", "scale": {"domain": ["s", "d"], "range": [[1, 0], [5, 3]]}, "legend": null}
    }
   },
   {
    "width": 74, "height": 420,
    "title": {"text": "t=0.17", "dx": -2},
    "data": {"name": "n1"},
    "mark": {"type": "rule"},
    "encoding": {
     "y": {"field": "E", "type": "quantitative", "scale": {"domain": [-20, 60], "nice": false}, "axis": null},
     "x": {"field": "n", "type": "quantitative", "scale": {"domain": [0, 1], "nice": false, "zero": false}, "axis": {"values": [0, 1], "format": ".1f", "labelOffset": 6, "labelPadding": 6, "title": "n", "titleFontSize": 26, "titlePadding": 0}},
     "x2": {"datum": 0},
     "strokeDash": {"field": "s", "type": "nominal", "scale": {"domain": ["s", "d"], "range": [[1, 0], [5, 3]]}, "legend": null}
    }
   }
  ]
 }
]
}
